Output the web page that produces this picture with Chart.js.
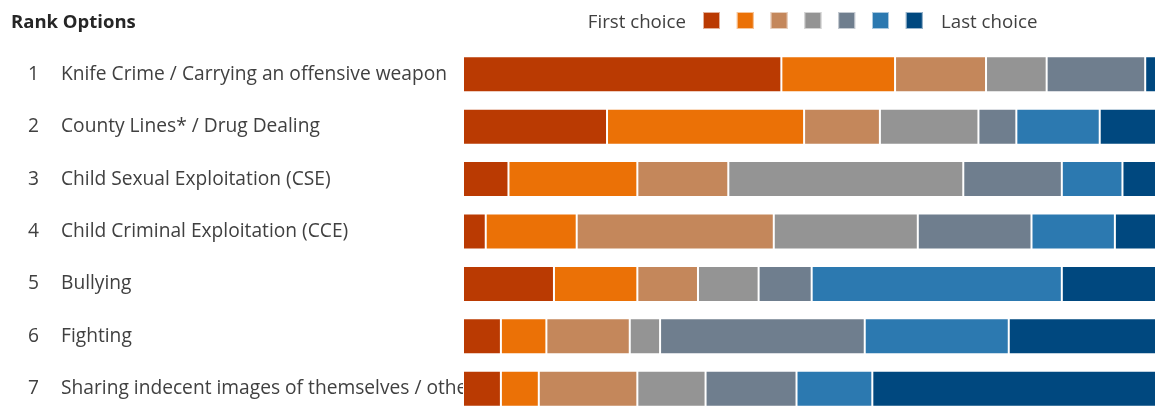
<!DOCTYPE html>
<html>
<head>
<meta charset="utf-8">
<title>Rank Options</title>
<script src="https://cdn.jsdelivr.net/npm/chart.js@4"></script>
<style>
  html, body { margin: 0; padding: 0; background: #fff; overflow: hidden; }
  canvas { display: block; }
</style>
</head>
<body>
<canvas id="rankChart" width="1240" height="430"></canvas>
<script>
// issues, ranked top to bottom
const categories = [
  'Knife Crime / Carrying an offensive weapon',
  'County Lines* / Drug Dealing',
  'Child Sexual Exploitation (CSE)',
  'Child Criminal Exploitation (CCE)',
  'Bullying',
  'Fighting',
  'Sharing indecent images of themselves / others'
];
const rankNumbers = ['1', '2', '3', '4', '5', '6', '7'];

// share of respondents (%) putting each issue at each position
const choice1 = [42, 19, 6, 3, 12, 5, 5];
const choice2 = [15, 26, 17, 12, 11, 6, 5];
const choice3 = [12, 10, 12, 26, 8, 11, 13];
const choice4 = [8, 13, 31, 19, 8, 4, 9];
const choice5 = [13, 5, 13, 15, 7, 27, 12];
const choice6 = [0, 11, 8, 11, 33, 19, 10];
const choice7 = [10, 16, 13, 14, 21, 28, 46];

const choiceColors = ['#BA3A02', '#EB7106', '#C4875B', '#949494', '#6F7E8E', '#2C79B0', '#00487F'];
const legendFirst = 'First choice';
const legendLast = 'Last choice';
const chartTitle = 'Rank Options';

const series = [choice1, choice2, choice3, choice4, choice5, choice6, choice7];

const FONT = "'Open Sans', 'Noto Sans', sans-serif";
const TEXT = '#404040';
const LABEL_SIZE = 19.2;

// title on the left, colour key along the top
const headerPlugin = {
  id: 'header',
  afterDraw(chart) {
    const ctx = chart.ctx;
    ctx.save();
    ctx.textBaseline = 'middle';
    ctx.fillStyle = '#262626';
    ctx.font = "bold 18.5px " + FONT;
    ctx.textAlign = 'left';
    ctx.fillText(chartTitle, 11, 23);

    ctx.font = "18.7px " + FONT;
    ctx.fillStyle = TEXT;
    ctx.textAlign = 'right';
    ctx.fillText(legendFirst, 686, 22.5);

    const size = 17, step = 33.8, x0 = 703, y0 = 12;
    choiceColors.forEach((c, i) => {
      const x = x0 + i * step;
      ctx.fillStyle = c;
      ctx.fillRect(x, y0, size, size);
      ctx.strokeStyle = 'rgba(255,255,255,0.6)';
      ctx.lineWidth = 1;
      ctx.strokeRect(x + 0.5, y0 + 0.5, size - 1, size - 1);
    });

    ctx.fillStyle = TEXT;
    ctx.textAlign = 'left';
    ctx.fillText(legendLast, 941, 22.5);
    ctx.restore();
  }
};

new Chart(document.getElementById('rankChart'), {
  type: 'bar',
  data: {
    labels: categories,
    datasets: series.map((values, i) => ({
      label: 'Choice ' + (i + 1),
      data: values,
      backgroundColor: choiceColors[i],
      borderColor: 'rgba(255,255,255,0.75)',
      borderWidth: 1,
      borderSkipped: false,
      barPercentage: 0.686,
      categoryPercentage: 1
    }))
  },
  options: {
    indexAxis: 'y',
    responsive: false,
    animation: false,
    // bottom padding leaves room for the tick label half-height
    layout: { padding: { left: 28, right: 19, top: 48, bottom: 15 } },
    plugins: {
      legend: { display: false },
      title: { display: false },
      tooltip: { enabled: false }
    },
    scales: {
      x: {
        stacked: true,
        min: 0,
        max: 100,
        display: false
      },
      y: {
        stacked: true,
        weight: 0,
        grid: { display: false, drawTicks: false },
        border: { display: false },
        ticks: {
          autoSkip: false,
          crossAlign: 'far',
          color: TEXT,
          font: { family: FONT, size: LABEL_SIZE }
        },
        afterFit: scale => { scale.width = 402; }
      },
      rank: {
        type: 'category',
        axis: 'y',
        position: 'left',
        labels: rankNumbers,
        offset: true,
        weight: 1,
        grid: { display: false, drawTicks: false },
        border: { display: false },
        ticks: {
          autoSkip: false,
          crossAlign: 'far',
          color: TEXT,
          font: { family: FONT, size: LABEL_SIZE }
        },
        afterFit: scale => { scale.width = 33; }
      }
    }
  },
  plugins: [headerPlugin]
});
</script>
</body>
</html>
